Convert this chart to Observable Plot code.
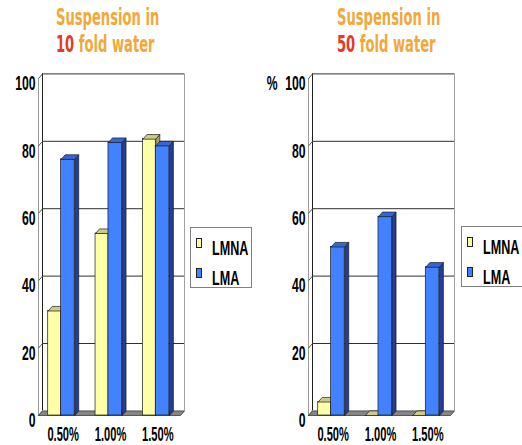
<!DOCTYPE html>
<html>
<head>
<meta charset="utf-8">
<script src="https://cdn.jsdelivr.net/npm/d3@7"></script>
<script src="https://cdn.jsdelivr.net/npm/@observablehq/plot@0.6"></script>
<style>
  html, body { margin: 0; padding: 0; background: #fff; }
  #chart { position: relative; width: 522px; height: 445px; overflow: hidden; background: #fff; }
  .panel { position: absolute; top: 0; }
  .title {
    position: absolute; top: 4px;
    font-family: "DejaVu Sans", sans-serif; font-weight: bold;
    font-size: 23px; line-height: 27px; color: #f2a83a;
    white-space: nowrap; transform-origin: 0 0; transform: scaleX(0.57);
  }
  .title .num { color: #e63a24; }
  .legend {
    position: absolute; border: 1px solid #808080; background: #fff;
    font-family: "Liberation Sans", Arial, sans-serif; font-size: 21px; color: #000;
  }
  .legend .item { position: absolute; left: 0; height: 21px; line-height: 21px; width: 100%; }
  .legend .sw { position: absolute; left: 5px; top: 1px; width: 4px; height: 8px; border: 1px solid #222; }
  .legend .lbl { position: absolute; left: 21px; top: 0; font-weight: bold; transform: scaleX(0.6); transform-origin: 0 0; white-space: nowrap; }
</style>
</head>
<body>
<div id="chart"></div>
<script>
// Concentrations on the x axis and the two series shown in every panel
const categories = ["0.50%", "1.00%", "1.50%"];
const seriesNames = ["LMNA", "LMA"];

// Suspension in 10-fold water (%)
const lmna10 = [31, 54, 82];
const lma10 = [76, 81, 80];

// Suspension in 50-fold water (%)
const lmna50 = [4, 0, 0];
const lma50 = [50, 59, 44];

const yTicks = [0, 20, 40, 60, 80, 100];

// Face colours of the pseudo-3D columns
const COLORS = {
  LMNA: {front: "#ffffa6", top: "#cfcb84", side: "#a9a55c"},
  LMA: {front: "#4281ff", top: "#3566d6", side: "#213f96"}
};
const EDGE = "#1a1a1a";
const FONT = "'Liberation Sans', Arial, sans-serif";

// Horizontal slot of each series inside a category band (band = 1 unit)
const SLOT = {LMNA: [0.205, 0.478], LMA: [0.478, 0.765]};

// Depth of the 3D box, in data units (about 4px right, 4.6px up)
const DX = 4 / (142 / 3);
const DY = 4.6 / 3.37;

const chart = document.getElementById("chart");

function panel({lmna, lma, left, marginLeft, width, percent}) {
  const values = {LMNA: lmna, LMA: lma};
  const bars = seriesNames.flatMap((s) =>
    categories.map((c, i) => ({
      id: `${c}-${s}`, series: s, i, value: values[s][i],
      x1: i + SLOT[s][0], x2: i + SLOT[s][1]
    }))
  );
  const poly = (d, pts) => pts.map(([x, y]) => ({id: d.id, x, y}));
  const topFace = (d) => poly(d, [[d.x1, d.value], [d.x2, d.value], [d.x2 + DX, d.value + DY], [d.x1 + DX, d.value + DY], [d.x1, d.value]]);
  const sideFace = (d) => poly(d, [[d.x2, 0], [d.x2 + DX, DY], [d.x2 + DX, d.value + DY], [d.x2, d.value], [d.x2, 0]]);
  const floor = [[0, 0], [3, 0], [3 + DX, DY], [DX, DY], [0, 0]].map(([x, y]) => ({id: "floor", x, y}));

  const labelStyle = {fontSize: 21, fontFamily: FONT, fontWeight: "bold", fill: "#000"};

  const marks = [
    // back wall grid
    Plot.ruleY(yTicks.slice(1), {y: (d) => d + DY, x1: () => DX, x2: () => 3 + DX, stroke: "#303030", strokeWidth: 1}),
    Plot.ruleX([3 + DX], {x: (d) => d, y1: () => DY, y2: () => 100 + DY, stroke: "#a0a0a0"}),
    Plot.ruleX([DX], {x: (d) => d, y1: () => DY, y2: () => 100 + DY, stroke: "#202020"}),
    // left side wall
    Plot.ruleX([0], {x: (d) => d, y1: () => 0, y2: () => 100, stroke: "#9a9a9a"}),
    Plot.link(yTicks, {x1: () => 0, y1: (d) => d, x2: () => DX, y2: (d) => d + DY, stroke: "#555"}),
    // floor
    Plot.line(floor, {x: "x", y: "y", z: "id", fill: "#858585", stroke: "#3a3a3a", strokeWidth: 0.8, curve: "linear"})
  ];

  for (const s of seriesNames) {
    const b = bars.filter((d) => d.series === s);
    marks.push(
      Plot.line(b.flatMap(sideFace), {x: "x", y: "y", z: "id", fill: COLORS[s].side, stroke: EDGE, strokeWidth: 0.7, curve: "linear"}),
      Plot.rect(b, {x1: "x1", x2: "x2", y1: () => 0, y2: "value", fill: COLORS[s].front, stroke: EDGE, strokeWidth: 0.7}),
      Plot.line(b.flatMap(topFace), {x: "x", y: "y", z: "id", fill: COLORS[s].top, stroke: EDGE, strokeWidth: 0.7, curve: "linear"})
    );
  }

  marks.push(
    Plot.text(yTicks, {x: () => 0, y: (d) => d, text: (d) => String(d), textAnchor: "end", lineAnchor: "middle", dx: -3, dy: 5, ...labelStyle}),
    Plot.text(categories, {x: (d, i) => i + 0.5, y: () => 0, text: (d) => d, lineAnchor: "middle", dx: 1, dy: 19, ...labelStyle})
  );
  if (percent) {
    marks.push(Plot.text(["%"], {x: () => 0, y: () => 100, text: (d) => d, textAnchor: "end", lineAnchor: "middle", dx: -31, dy: 5, ...labelStyle}));
  }

  const svg = Plot.plot({
    width, height: 445,
    marginLeft, marginRight: width - marginLeft - 142, marginTop: 78, marginBottom: 30,
    x: {domain: [0, 3], axis: null},
    y: {domain: [0, 100], axis: null},
    style: {background: "transparent", overflow: "visible"},
    marks
  });

  // narrow, tall lettering of the labels
  svg.querySelectorAll("text").forEach((t) => {
    const k = categories.includes(t.textContent) ? 0.53 : 0.58;
    const tr = t.getAttribute("transform") || "";
    t.setAttribute("transform", `${tr} scale(${k},1)`);
  });

  svg.classList.add("panel");
  svg.style.left = `${left}px`;
  chart.appendChild(svg);
}

panel({lmna: lmna10, lma: lma10, left: 0, marginLeft: 38, width: 190, percent: false});
panel({lmna: lmna50, lma: lma50, left: 250, marginLeft: 58, width: 210, percent: true});

function title(left, factor) {
  const div = document.createElement("div");
  div.className = "title";
  div.style.left = `${left}px`;
  div.innerHTML = `Suspension in<br><span class="num">${factor}</span> fold water`;
  chart.appendChild(div);
}
title(56, 10);
title(337, 50);

function legend(left, top, width) {
  const div = document.createElement("div");
  div.className = "legend";
  Object.assign(div.style, {left: `${left}px`, top: `${top}px`, width: `${width}px`, height: "59px"});
  seriesNames.forEach((s, j) => {
    const item = document.createElement("div");
    item.className = "item";
    item.style.top = `${9 + j * 30}px`;
    item.innerHTML = `<span class="sw" style="background:${COLORS[s].front}"></span><span class="lbl">${s}</span>`;
    div.appendChild(item);
  });
  chart.appendChild(div);
}
legend(190, 227, 60);
legend(461, 226, 80);
</script>
</body>
</html>
